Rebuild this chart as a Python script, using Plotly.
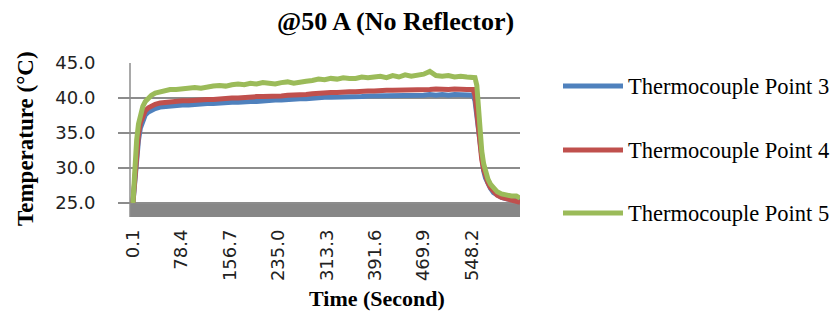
import plotly.graph_objects as go

# ---------------- data ----------------
time_s = [0, 3, 6, 9, 12, 16, 20, 25, 30, 36,
          44, 52, 60,
          70, 80, 90, 100, 110, 120, 130, 140, 150, 160,
          170, 180, 190, 200, 210, 220, 230, 240, 250, 260,
          270, 280, 290, 300, 310, 320, 330, 340, 350, 360,
          370, 380, 390, 400, 410, 420, 430, 440, 450, 460,
          470, 480, 490, 500, 510, 520, 530, 540, 550,
          553, 556, 558, 560, 562, 564, 567, 570, 574, 578,
          583, 589, 596, 604, 612, 620, 626]

point3 = [25.0, 28.2, 31.6, 34.0, 35.7, 36.9, 37.6, 38.0, 38.3, 38.5,
          38.7, 38.8, 38.9,
          38.9, 39.0, 39.0, 39.1, 39.1, 39.2, 39.2, 39.3, 39.3, 39.4,
          39.4, 39.5, 39.5, 39.5, 39.6, 39.6, 39.7, 39.7, 39.8, 39.8,
          39.9, 39.9, 40.0, 40.0, 40.1, 40.1, 40.1, 40.2, 40.2, 40.2,
          40.2, 40.3, 40.3, 40.3, 40.3, 40.3, 40.4, 40.4, 40.4, 40.4,
          40.4, 40.5, 40.4, 40.5, 40.4, 40.5, 40.5, 40.4, 40.4,
          39.6, 37.4, 35.3, 33.6, 32.1, 30.9, 29.6, 28.6, 27.7, 27.1,
          26.5, 26.1, 25.8, 25.6, 25.5, 25.4, 25.3]

point4 = [25.0, 29.0, 32.5, 34.8, 36.4, 37.6, 38.2, 38.6, 38.9, 39.1,
          39.3, 39.4, 39.5,
          39.5, 39.6, 39.6, 39.7, 39.7, 39.8, 39.8, 39.9, 39.9, 40.0,
          40.0, 40.1, 40.1, 40.2, 40.2, 40.2, 40.3, 40.3, 40.4, 40.4,
          40.5, 40.5, 40.6, 40.7, 40.7, 40.8, 40.8, 40.9, 40.9, 40.9,
          41.0, 41.0, 41.0, 41.1, 41.1, 41.1, 41.1, 41.2, 41.1, 41.2,
          41.2, 41.2, 41.3, 41.2, 41.2, 41.3, 41.2, 41.2, 41.2,
          40.4, 38.0, 35.8, 34.0, 32.5, 31.2, 29.8, 28.8, 27.9, 27.2,
          26.6, 26.1, 25.8, 25.6, 25.4, 25.3, 25.1]

point5 = [25.0, 30.5, 34.0, 36.3, 37.7, 38.8, 39.5, 40.0, 40.4, 40.7,
          40.9, 41.1, 41.2,
          41.2, 41.3, 41.4, 41.5, 41.4, 41.6, 41.7, 41.8, 41.7, 41.9,
          42.0, 41.9, 42.1, 42.0, 42.2, 42.1, 42.0, 42.2, 42.3, 42.1,
          42.3, 42.4, 42.5, 42.7, 42.6, 42.8, 42.7, 42.9, 42.8, 42.8,
          43.0, 42.9, 43.0, 43.1, 42.9, 43.2, 43.0, 43.3, 43.1, 43.2,
          43.4, 43.8, 43.2, 43.1, 43.2, 43.0, 43.1, 43.0, 43.0,
          42.9, 41.8, 39.0, 36.5, 34.2, 32.4, 30.6, 29.4, 28.4, 27.7,
          27.1, 26.6, 26.3, 26.1, 26.0, 26.0, 25.7]

series_names = ["Thermocouple Point 3", "Thermocouple Point 4", "Thermocouple Point 5"]
series_values = [point3, point4, point5]
series_colors = ["#4F81BD", "#C0504D", "#9BBB59"]

x_tick_vals = [0.1, 78.4, 156.7, 235.0, 313.3, 391.6, 469.9, 548.2]
x_tick_text = ["0.1", "78.4", "156.7", "235.0", "313.3", "391.6", "469.9", "548.2"]
y_tick_vals = [25, 30, 35, 40, 45]
y_tick_text = ["25.0", "30.0", "35.0", "40.0", "45.0"]

title_text = "@50 A (No Reflector)"
x_title = "Time (Second)"
y_title = "Temperature (°C)"

# ---------------- layout geometry (page pixels) ----------------
OFF = 8                      # default body margin of the html page
W, H = 839 - OFF, 318 - OFF  # figure size
L, R, T, B = 118, 520, 63, 217   # plot area in page px (gridlines start at 118)
AXIS_X = 130                     # where the value axis line sits


def px_x(x):
    return (x - L) / (R - L)


def px_y(y):
    return (B - y) / (B - T)


GRID = "#8C8C8C"
SERIF = "Liberation Serif"
SANS = "DejaVu Sans"

fig = go.Figure()
for name, vals, col in zip(series_names, series_values, series_colors):
    fig.add_trace(go.Scatter(x=time_s, y=vals, mode="lines", name=name,
                             line=dict(color=col, width=5),
                             showlegend=False))

shapes = [
    # grey floor under the 25.0 line
    dict(type="rect", xref="paper", yref="y", x0=px_x(AXIS_X), x1=1, y0=23, y1=25,
         fillcolor="#878787", line=dict(width=0), layer="below"),
    # value axis line
    dict(type="line", xref="paper", yref="paper", x0=px_x(AXIS_X), x1=px_x(AXIS_X),
         y0=0, y1=1, line=dict(color=GRID, width=1.5), layer="below"),
]

annotations = [
    dict(text="<b>%s</b>" % title_text, x=px_x(395), y=px_y(21), xref="paper", yref="paper",
         showarrow=False, font=dict(family=SERIF, size=26, color="#000"),
         xanchor="center", yanchor="middle"),
    dict(text="<b>%s</b>" % x_title, x=px_x(377), y=px_y(298), xref="paper", yref="paper",
         showarrow=False, font=dict(family=SERIF, size=22, color="#000"),
         xanchor="center", yanchor="middle"),
    dict(text="<b>%s</b>" % y_title, x=px_x(25), y=px_y(139), xref="paper", yref="paper",
         showarrow=False, font=dict(family=SERIF, size=23, color="#000"),
         textangle=-90, xanchor="center", yanchor="middle"),
]

# manual legend (long line swatches as in the reference)
legend_y = [86, 150, 213]
for name, col, ly in zip(series_names, series_colors, legend_y):
    shapes.append(dict(type="line", xref="paper", yref="paper",
                       x0=px_x(563), x1=px_x(623), y0=px_y(ly), y1=px_y(ly),
                       line=dict(color=col, width=5)))
    annotations.append(dict(text=name, x=px_x(626), y=px_y(ly), xref="paper", yref="paper",
                            showarrow=False, xanchor="left", yanchor="middle",
                            font=dict(family=SERIF, size=22.5, color="#000")))

# x range: t = 0.1 s sits at page x 133, 548.2 s at page x 472
sec_per_px = (548.2 - 0.1) / (472 - 133)
x_lo = 0.1 - (133 - L) * sec_per_px
x_hi = 0.1 + (R - 133) * sec_per_px

fig.update_layout(
    width=W, height=H,
    margin=dict(l=L - OFF, r=839 - R, t=T - OFF, b=318 - B, pad=0),
    paper_bgcolor="white", plot_bgcolor="white",
    shapes=shapes, annotations=annotations,
    showlegend=False,
)
fig.update_xaxes(range=[x_lo, x_hi], showgrid=False, zeroline=False, showline=False,
                 tickmode="array", tickvals=x_tick_vals, ticktext=x_tick_text,
                 tickangle=-90, ticks="", ticklabelstandoff=8,
                 tickfont=dict(family=SANS, size=18, color="#222"))
fig.update_yaxes(range=[23, 45], showgrid=True, gridcolor=GRID, gridwidth=1.5,
                 zeroline=False, showline=False,
                 ticks="outside", ticklen=18, tickcolor="rgba(0,0,0,0)",
                 tickmode="array", tickvals=y_tick_vals, ticktext=y_tick_text,
                 tickfont=dict(family=SANS, size=18, color="#222"))

fig.write_html("out.html")
